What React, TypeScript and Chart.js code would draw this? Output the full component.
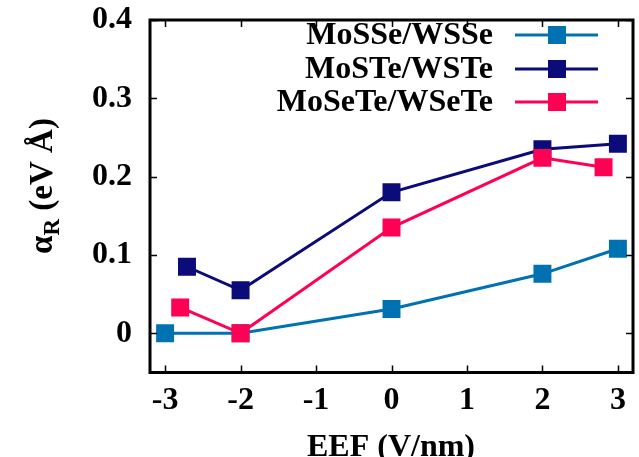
import React, { useEffect, useRef } from 'react';
import { Chart, registerables } from 'chart.js';

Chart.register(...registerables);

// ---- data ----
const fieldMoSSe = [-3, -2, 0, 2, 3];
const alphaMoSSe = [0, 0, 0.031, 0.076, 0.108];
const fieldMoSTe = [-2.71, -2, 0, 2, 3];
const alphaMoSTe = [0.085, 0.055, 0.18, 0.235, 0.242];
const fieldMoSeTe = [-2.8, -2, 0, 2, 2.81];
const alphaMoSeTe = [0.033, 0, 0.135, 0.224, 0.212];
const seriesNames = ['MoSSe/WSSe', 'MoSTe/WSTe', 'MoSeTe/WSeTe'];
const seriesColors = ['#0072b2', '#0b0b7a', '#ff0055'];
const xTicks = [-3, -2, -1, 0, 1, 2, 3];
const yTicks = [0, 0.1, 0.2, 0.3, 0.4];
const xTitle = 'EEF (V/nm)';
const yTitleMain = 'α';
const yTitleSub = 'R';
const yTitleRest = ' (eV Å)';

const FONT = '"Liberation Serif", "Times New Roman", serif';

function pts(xs: number[], ys: number[]) {
  return xs.map((x, i) => ({ x, y: ys[i] }));
}

const framePlugin = {
  id: 'gnuFrame',
  afterDraw(chart: any) {
    const { ctx, chartArea: a, scales } = chart;
    ctx.save();
    ctx.strokeStyle = '#000';
    ctx.lineWidth = 1.5;
    const tl = 7;
    ctx.beginPath();
    for (const v of xTicks) {
      const px = Math.round(scales.x.getPixelForValue(v)) + 0.5;
      ctx.moveTo(px, a.bottom);
      ctx.lineTo(px, a.bottom - tl);
      ctx.moveTo(px, a.top);
      ctx.lineTo(px, a.top + tl);
    }
    for (const v of yTicks) {
      const py = Math.round(scales.y.getPixelForValue(v)) + 0.5;
      ctx.moveTo(a.left, py);
      ctx.lineTo(a.left + tl, py);
      ctx.moveTo(a.right, py);
      ctx.lineTo(a.right - tl, py);
    }
    ctx.stroke();
    ctx.lineWidth = 3;
    ctx.strokeRect(a.left, a.top, a.right - a.left, a.bottom - a.top);

    // legend
    const rowY = [35, 69, 102];
    ctx.font = `bold 32px ${FONT}`;
    ctx.textAlign = 'right';
    ctx.textBaseline = 'middle';
    seriesNames.forEach((name, i) => {
      const y = rowY[i];
      ctx.fillStyle = '#000';
      ctx.fillText(name, 493, y + 1);
      ctx.strokeStyle = seriesColors[i];
      ctx.lineWidth = 3;
      ctx.beginPath();
      ctx.moveTo(515, y);
      ctx.lineTo(598, y);
      ctx.stroke();
      ctx.fillStyle = seriesColors[i];
      ctx.fillRect(557 - 9, y - 9, 18, 18);
    });

    // x title
    ctx.fillStyle = '#000';
    ctx.textAlign = 'center';
    ctx.textBaseline = 'alphabetic';
    ctx.font = `bold 32px ${FONT}`;
    ctx.fillText(xTitle, 391, 456);

    // y title
    ctx.translate(52, 186);
    ctx.rotate(-Math.PI / 2);
    ctx.textAlign = 'left';
    ctx.font = `bold 33px ${FONT}`;
    const w1 = ctx.measureText(yTitleMain).width;
    const w3 = ctx.measureText(yTitleRest).width;
    ctx.font = `bold 23px ${FONT}`;
    const w2 = ctx.measureText(yTitleSub).width;
    const start = -(w1 + w2 + w3) / 2;
    ctx.font = `bold 33px ${FONT}`;
    ctx.fillText(yTitleMain, start, 0);
    ctx.font = `bold 23px ${FONT}`;
    ctx.fillText(yTitleSub, start + w1, 7);
    ctx.font = `bold 33px ${FONT}`;
    ctx.fillText(yTitleRest, start + w1 + w2, 0);
    ctx.restore();
  },
};

export default function App() {
  const ref = useRef<HTMLCanvasElement | null>(null);
  useEffect(() => {
    if (!ref.current) return;
    const fieldSets = [fieldMoSSe, fieldMoSTe, fieldMoSeTe];
    const alphaSets = [alphaMoSSe, alphaMoSTe, alphaMoSeTe];
    const chart = new Chart(ref.current, {
      type: 'scatter',
      data: {
        datasets: seriesNames.map((name, i) => ({
          label: name,
          data: pts(fieldSets[i], alphaSets[i]),
          showLine: true,
          borderColor: seriesColors[i],
          backgroundColor: seriesColors[i],
          borderWidth: 3,
          pointStyle: 'rect',
          pointRadius: 12.7,
          pointBorderWidth: 0,
          pointBackgroundColor: seriesColors[i],
          order: 3 - i,
        })),
      },
      options: {
        responsive: false,
        animation: false,
        layout: { autoPadding: false, padding: { left: 0, right: 6, top: 20, bottom: 0 } },
        plugins: { legend: { display: false }, tooltip: { enabled: false } },
        scales: {
          x: {
            type: 'linear',
            min: -3.2,
            max: 3.2,
            afterBuildTicks: (s: any) => {
              s.ticks = xTicks.map((v) => ({ value: v }));
            },
            afterFit: (s: any) => {
              s.height = 84.5;
              s.paddingLeft = 0;
              s.paddingRight = 0;
              s.paddingTop = 0;
              s.paddingBottom = 0;
            },
            grid: { display: false, drawTicks: false },
            border: { display: false },
            ticks: {
              autoSkip: false,
              maxRotation: 0,
              padding: 9,
              color: '#000',
              font: { family: FONT, size: 32, weight: 'bold' },
              callback: (v: any) => String(v),
            },
          },
          y: {
            type: 'linear',
            min: -0.05,
            max: 0.4,
            afterBuildTicks: (s: any) => {
              s.ticks = yTicks.map((v) => ({ value: v }));
            },
            afterFit: (s: any) => {
              s.width = 150;
              s.paddingLeft = 0;
              s.paddingRight = 0;
              s.paddingTop = 0;
              s.paddingBottom = 0;
            },
            grid: { display: false, drawTicks: false },
            border: { display: false },
            ticks: {
              autoSkip: false,
              padding: 18,
              color: '#000',
              font: { family: FONT, size: 32, weight: 'bold' },
              callback: (v: any) => (v === 0 ? '0' : Number(v).toFixed(1)),
            },
          },
        },
      },
      plugins: [framePlugin],
    } as any);
    return () => chart.destroy();
  }, []);
  return (
    <div style={{ position: 'absolute', left: 0, top: 0, width: 639, height: 457, background: '#fff' }}>
      <canvas ref={ref} width={639} height={457} style={{ display: 'block' }} />
    </div>
  );
}
